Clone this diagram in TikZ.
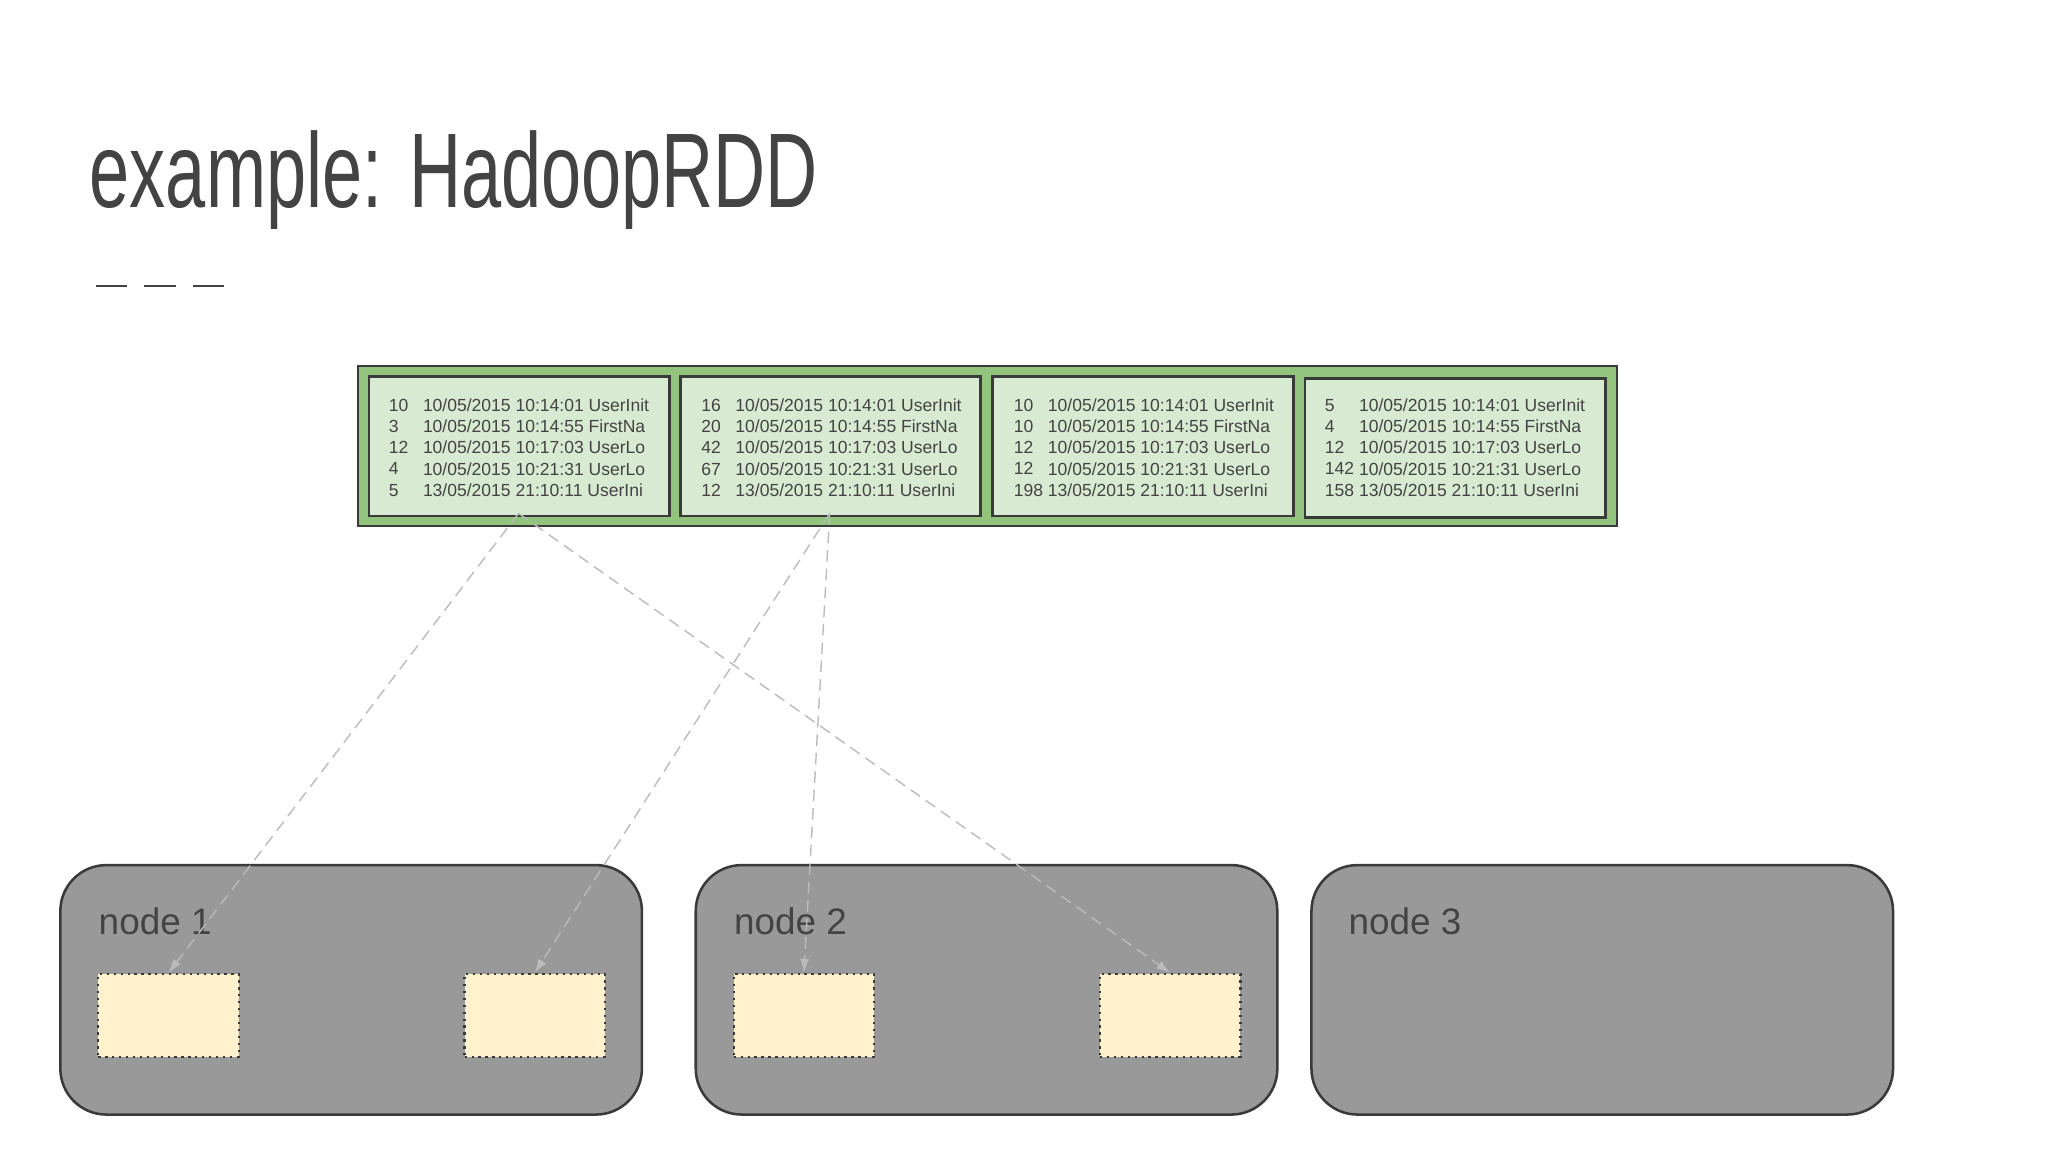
\documentclass[tikz,border=0pt]{standalone}
\usepackage{fontspec}
\setmainfont{Liberation Sans}
\usetikzlibrary{arrows.meta}
\definecolor{titlegray}{HTML}{434343}
\definecolor{edge}{HTML}{3A3A3A}
\definecolor{rddgreen}{HTML}{93C47D}
\definecolor{partgreen}{HTML}{D9EAD3}
\definecolor{hostgray}{HTML}{999999}
\definecolor{blockyellow}{HTML}{FFF2CC}
\definecolor{linkgray}{HTML}{BBBBBB}
\tikzset{
  part/.style={draw=edge,line width=1.2pt,fill=partgreen,minimum width=229*0.02cm,minimum height=106*0.02cm,inner sep=0pt},
  rows/.style={font=\fontsize{7.6}{9.2}\selectfont,text=titlegray,anchor=west,align=left},
  host/.style={draw=edge,line width=1.1pt,fill=hostgray,rounded corners=0.7cm,minimum width=443*0.02cm,minimum height=190*0.02cm,inner sep=0pt},
  hostlabel/.style={font=\fontsize{16}{18}\selectfont,text=titlegray,anchor=base west},
  block/.style={draw=edge,line width=1pt,dotted,fill=blockyellow,minimum width=107*0.02cm,minimum height=63*0.02cm,inner sep=0pt},
  link/.style={draw=linkgray,line width=0.6pt,dash pattern=on 5pt off 3pt,-{Latex[length=6pt,width=4pt]}}
}
\begin{document}
\begin{tikzpicture}[x=0.02cm,y=-0.02cm]
\useasboundingbox[fill=white] (0,0) rectangle (1560,877.5);
% title
\node[anchor=base west,inner sep=0,text=titlegray,font=\fontsize{46}{50}\selectfont] (title) at (68,158) {\scalebox{0.68}[1]{example: HadoopRDD}};
\foreach \x in {73,110,147}
  \draw[titlegray,line width=1pt] (\x,218) -- ++(24,0);
% RDD
\node[draw=edge,line width=1pt,fill=rddgreen,minimum width=959*0.02cm,minimum height=122*0.02cm,inner sep=0pt,anchor=north west] (rdd) at (272,278) {};
\node[part,anchor=north west] (p1) at (280,286) {};
\node[part,anchor=north west] (p2) at (517,286) {};
\node[part,anchor=north west] (p3) at (755,286) {};
\node[part,anchor=north west] (p4) at (993,287) {};
\node[rows] (n1) at (290,341) {10\\3\\12\\4\\5};
\node[rows] (t1) at (316,341) {10/05/2015 10:14:01 UserInit\\10/05/2015 10:14:55 FirstNa\\10/05/2015 10:17:03 UserLo\\10/05/2015 10:21:31 UserLo\\13/05/2015 21:10:11 UserIni};
\node[rows] (n2) at (528,341) {16\\20\\42\\67\\12};
\node[rows] (t2) at (554,341) {10/05/2015 10:14:01 UserInit\\10/05/2015 10:14:55 FirstNa\\10/05/2015 10:17:03 UserLo\\10/05/2015 10:21:31 UserLo\\13/05/2015 21:10:11 UserIni};
\node[rows] (n3) at (766,341) {10\\10\\12\\12\\198};
\node[rows] (t3) at (792,341) {10/05/2015 10:14:01 UserInit\\10/05/2015 10:14:55 FirstNa\\10/05/2015 10:17:03 UserLo\\10/05/2015 10:21:31 UserLo\\13/05/2015 21:10:11 UserIni};
\node[rows] (n4) at (1003,341) {5\\4\\12\\142\\158};
\node[rows] (t4) at (1029,341) {10/05/2015 10:14:01 UserInit\\10/05/2015 10:14:55 FirstNa\\10/05/2015 10:17:03 UserLo\\10/05/2015 10:21:31 UserLo\\13/05/2015 21:10:11 UserIni};
% hosts
\node[host,anchor=north west] (h1) at (45,658) {};
\node[host,anchor=north west] (h2) at (529,658) {};
\node[host,anchor=north west] (h3) at (998,658) {};
\node[hostlabel] (l1) at (69,712) {node 1};
\node[hostlabel] (l2) at (553,712) {node 2};
\node[hostlabel] (l3) at (1021,712) {node 3};
% blocks
\node[block,anchor=north west] (b1) at (74,741) {};
\node[block,anchor=north west] (b2) at (353,741) {};
\node[block,anchor=north west] (b3) at (558,741) {};
\node[block,anchor=north west] (b4) at (837,741) {};
% links
\coordinate (s1) at (395,391);
\coordinate (s2) at (632,391);
\draw[link] (s1) -- (b1.north);
\draw[link] (s1) -- (b4.north);
\draw[link] (s2) -- (b2.north);
\draw[link] (s2) -- (b3.north);
\end{tikzpicture}
\end{document}
